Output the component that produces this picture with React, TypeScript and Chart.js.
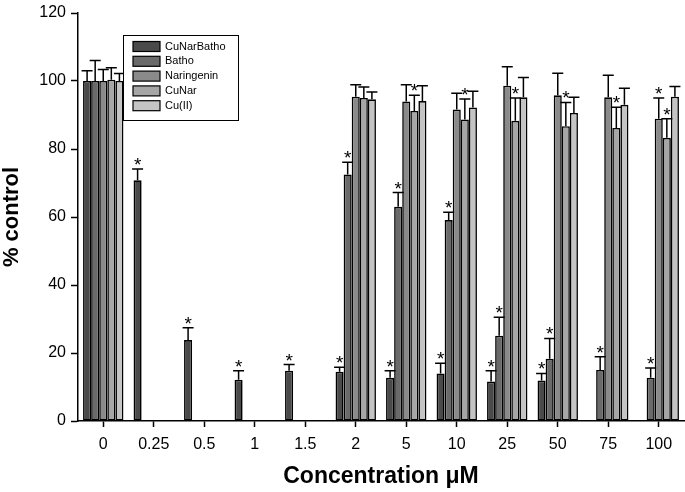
import React, { useEffect, useRef } from "react";
import { Chart, registerables } from "chart.js";

Chart.register(...registerables);

const categories = ["0", "0.25", "0.5", "1", "1.5", "2", "5", "10", "25", "50", "75", "100"];
const seriesNames = ["CuNarBatho", "Batho", "Naringenin", "CuNar", "Cu(II)"];
const seriesColors = ["#4a4a4a", "#6a6a6a", "#8a8a8a", "#a6a6a6", "#c4c4c4"];

const cuNarBatho = [100, 70.8, 23.8, 12.1, 14.8, 14.5, 12.7, 14.0, 11.6, 11.9, null, null];
const batho = [100, null, null, null, null, 72.5, 63.0, 59.1, 25.1, 18.3, 15.0, 12.7];
const naringenin = [100, null, null, null, null, 95.4, 94.0, 91.6, 98.6, 95.8, 95.2, 88.9];
const cuNar = [100.4, null, null, null, null, 95.0, 91.2, 88.7, 88.3, 86.7, 86.2, 83.3];
const cuII = [100, null, null, null, null, 94.6, 94.1, 92.2, 95.2, 90.6, 93.0, 95.4];

const cuNarBathoErr = [3, 3.3, 3.6, 2.7, 1.8, 1.3, 2.1, 3.0, 3.2, 2.1, null, null];
const bathoErr = [6, null, null, null, null, 3.6, 4.2, 2.3, 5.4, 6.0, 3.9, 2.9];
const naringeninErr = [3.4, null, null, null, null, 3.5, 4.9, 4.8, 5.6, 6.5, 6.5, 6.1];
const cuNarErr = [3.5, null, null, null, null, 3.2, 4.6, 6.0, 6.7, 7.0, 6.1, 5.6];
const cuIIErr = [2.2, null, null, null, null, 2.2, 4.5, 4.8, 5.8, 4.6, 4.9, 3.0];

const cuNarBathoSig = [false, true, true, true, true, true, true, true, true, true, false, false];
const bathoSig = [false, false, false, false, false, true, true, true, true, true, true, true];
const naringeninSig = [false, false, false, false, false, false, false, false, false, false, false, true];
const cuNarSig = [false, false, false, false, false, false, true, true, true, true, true, true];
const cuIISig = [false, false, false, false, false, false, false, false, false, false, false, false];

const yTicks = [0, 20, 40, 60, 80, 100, 120];

const seriesValues = [cuNarBatho, batho, naringenin, cuNar, cuII];
const seriesErrors = [cuNarBathoErr, bathoErr, naringeninErr, cuNarErr, cuIIErr];
const seriesSig = [cuNarBathoSig, bathoSig, naringeninSig, cuNarSig, cuIISig];

const FONT = '"Liberation Sans", Arial, sans-serif';

const errorBarPlugin = {
  id: "errorBars",
  afterDatasetsDraw(chart: any) {
    const { ctx } = chart;
    const yScale = chart.scales.y;
    ctx.save();
    chart.data.datasets.forEach((ds: any, i: number) => {
      const meta = chart.getDatasetMeta(i);
      const errs = seriesErrors[i];
      const sig = seriesSig[i];
      meta.data.forEach((bar: any, j: number) => {
        const v = ds.data[j];
        const e = errs[j];
        if (v == null || e == null) return;
        const yTop = yScale.getPixelForValue(v + e);
        const yBar = yScale.getPixelForValue(v);
        ctx.strokeStyle = "#000";
        ctx.lineWidth = 1.5;
        ctx.beginPath();
        ctx.moveTo(bar.x, yBar);
        ctx.lineTo(bar.x, yTop);
        ctx.moveTo(bar.x - 5.5, yTop);
        ctx.lineTo(bar.x + 5.5, yTop);
        ctx.stroke();
        if (sig[j]) {
          ctx.fillStyle = "#000";
          ctx.font = `19px ${FONT}`;
          ctx.textAlign = "center";
          ctx.textBaseline = "alphabetic";
          ctx.fillText("*", bar.x, yTop + 2);
        }
      });
    });
    ctx.restore();
  },
};

const legendPlugin = {
  id: "boxLegend",
  afterDraw(chart: any) {
    const { ctx, chartArea } = chart;
    const x0 = chartArea.left + 45;
    const y0 = chartArea.top + 22;
    const w = 115;
    const h = 85;
    ctx.save();
    ctx.fillStyle = "#fff";
    ctx.fillRect(x0, y0, w, h);
    ctx.strokeStyle = "#000";
    ctx.lineWidth = 1;
    ctx.strokeRect(x0 + 0.5, y0 + 0.5, w, h);
    chart.data.datasets.forEach((ds: any, i: number) => {
      const cy = y0 + 11.5 + i * 14.8;
      ctx.fillStyle = ds.backgroundColor;
      ctx.fillRect(x0 + 10, cy - 5, 27, 10);
      ctx.strokeStyle = "#000";
      ctx.lineWidth = 1.2;
      ctx.strokeRect(x0 + 10, cy - 5, 27, 10);
      ctx.fillStyle = "#000";
      ctx.font = `11px ${FONT}`;
      ctx.textAlign = "left";
      ctx.textBaseline = "middle";
      ctx.fillText(ds.label, x0 + 42, cy);
    });
    ctx.restore();
  },
};

export default function App() {
  const canvasRef = useRef<HTMLCanvasElement | null>(null);

  useEffect(() => {
    document.body.style.margin = "0";
    if (!canvasRef.current) return;
    const chart = new Chart(canvasRef.current, {
      type: "bar",
      data: {
        labels: categories,
        datasets: seriesNames.map((name, i) => ({
          label: name,
          data: seriesValues[i],
          backgroundColor: seriesColors[i],
          borderColor: "#000",
          borderWidth: 1.6,
          borderSkipped: false,
          categoryPercentage: 0.8,
          barPercentage: 1.0,
        })),
      },
      options: {
        animation: false,
        responsive: true,
        maintainAspectRatio: false,
        layout: { padding: { top: 8, right: 1, left: 0, bottom: 0 } },
        plugins: {
          legend: { display: false },
          tooltip: { enabled: false },
        },
        scales: {
          x: {
            grid: {
              offset: false,
              drawOnChartArea: false,
              drawTicks: true,
              tickLength: 6,
              tickWidth: 1.5,
              tickColor: "#000",
            },
            border: { color: "#000", width: 1.5 },
            ticks: {
              color: "#000",
              font: { family: FONT, size: 16 },
              padding: 8,
              maxRotation: 0,
              autoSkip: false,
            },
            title: {
              display: true,
              text: "Concentration μM",
              color: "#000",
              font: { family: FONT, size: 23, weight: "bold", lineHeight: 1 },
              padding: { top: 0, bottom: 4 },
            },
            afterFit: (scale: any) => {
              scale.height = 71;
            },
          },
          y: {
            min: 0,
            max: 120,
            afterBuildTicks: (scale: any) => {
              scale.ticks = yTicks.map((v) => ({ value: v }));
            },
            grid: {
              drawOnChartArea: false,
              drawTicks: true,
              tickLength: 7,
              tickWidth: 1.5,
              tickColor: "#000",
            },
            border: { color: "#000", width: 1.5 },
            ticks: {
              color: "#000",
              font: { family: FONT, size: 16, lineHeight: 1 },
              padding: 5,
            },
            title: {
              display: true,
              text: "% control",
              color: "#000",
              font: { family: FONT, size: 22, weight: "bold", lineHeight: 1 },
              padding: { top: 1, bottom: 0 },
            },
            afterFit: (scale: any) => {
              scale.width = 78;
            },
          },
        },
      },
      plugins: [errorBarPlugin, legendPlugin],
    });
    return () => chart.destroy();
  }, []);

  return (
    <div style={{ width: 685, height: 492, position: "relative" }}>
      <canvas ref={canvasRef} />
    </div>
  );
}
